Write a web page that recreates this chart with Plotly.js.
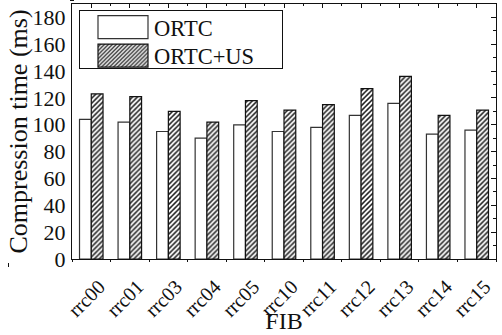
<!DOCTYPE html>
<html>
<head>
<meta charset="utf-8">
<script src="https://cdn.plot.ly/plotly-3.0.1.min.js"></script>
<style>html,body{margin:0;padding:0;background:#fff;}#chart{width:502px;height:335px;}</style>
</head>
<body>
<div id="chart"></div>
<script>
const categories = ["rrc00","rrc01","rrc03","rrc04","rrc05","rrc10","rrc11","rrc12","rrc13","rrc14","rrc15"];
const ortc   = [104, 102, 95, 90, 100, 95, 98, 107, 116, 93, 96];
const ortcUS = [123, 121, 110, 102, 118, 111, 115, 127, 136, 107, 111];
const seriesNames = ["ORTC", "ORTC+US"];
const yTickStep = 20;

const FONT = "Liberation Serif, Times New Roman, serif";

const traces = [
  {
    type: "bar", name: seriesNames[0], x: categories, y: ortc,
    marker: {color: "#ffffff", line: {color: "#333", width: 1.2}},
    xaxis: "x", yaxis: "y"
  },
  {
    type: "bar", name: seriesNames[1], x: categories, y: ortcUS,
    marker: {color: "#ffffff", line: {color: "#111", width: 1.2},
             pattern: {shape: "/", size: 3.5, solidity: 0.45, fgcolor: "#222", bgcolor: "#ffffff"}},
    xaxis: "x", yaxis: "y"
  },
  {type: "scatter", x: [], y: [], xaxis: "x2", yaxis: "y", showlegend: false, hoverinfo: "skip"},
  {type: "scatter", x: [], y: [], xaxis: "x3", yaxis: "y", showlegend: false, hoverinfo: "skip"},
  {type: "scatter", x: [], y: [], xaxis: "x", yaxis: "y2", showlegend: false, hoverinfo: "skip"}
];

const n = categories.length;
const layout = {
  width: 502, height: 335,
  margin: {l: 72, r: 6, t: 4, b: 76},
  paper_bgcolor: "#fff", plot_bgcolor: "#fff",
  font: {family: FONT, color: "#111"},
  barmode: "group", bargap: 0.39, bargroupgap: 0,
  showlegend: true,
  legend: {
    x: 0.0165, y: 0.976, xanchor: "left", yanchor: "top",
    bordercolor: "#111", borderwidth: 1, bgcolor: "#fff",
    font: {family: FONT, size: 22.5, color: "#111"},
    itemwidth: 64, tracegroupgap: 0
  },
  xaxis: {
    type: "category", categoryorder: "array", categoryarray: categories,
    showline: true, linecolor: "#111", linewidth: 1.2,
    ticks: "outside", ticklen: 4, tickcolor: "#111",
    tickangle: -45, tickfont: {family: FONT, size: 20, color: "#111"},
    showgrid: false, zeroline: false,
    title: {text: "FIB", font: {family: FONT, size: 24, color: "#111"}, standoff: 0}
  },
  xaxis2: {
    overlaying: "x", side: "bottom", anchor: "y", type: "linear",
    range: [-0.5, n - 0.5], tick0: 0.5, dtick: 1,
    ticks: "outside", ticklen: 2, tickcolor: "#111",
    showticklabels: false, showline: false, showgrid: false, zeroline: false
  },
  xaxis3: {
    overlaying: "x", side: "top", anchor: "y", type: "linear",
    range: [-0.5, n - 0.5], tick0: 0, dtick: 1,
    ticks: "inside", ticklen: 4, tickcolor: "#111",
    minor: {ticks: "inside", ticklen: 2, tick0: 0.5, dtick: 1, tickcolor: "#111"},
    showticklabels: false, showline: true, linecolor: "#111", linewidth: 1.2,
    showgrid: false, zeroline: false
  },
  yaxis: {
    range: [0, 190], dtick: yTickStep, tick0: 0,
    showline: true, linecolor: "#111", linewidth: 1.2,
    ticks: "outside", ticklen: 4, tickcolor: "#111",
    minor: {ticks: "outside", ticklen: 2, dtick: yTickStep / 2, tickcolor: "#111"},
    tickfont: {family: FONT, size: 22, color: "#111"},
    showgrid: false, zeroline: false,
    title: {text: "Compression time (ms)", font: {family: FONT, size: 26, color: "#111"}, standoff: 0}
  },
  yaxis2: {
    overlaying: "y", side: "right", anchor: "x",
    range: [0, 190], dtick: yTickStep, tick0: 0,
    showline: true, linecolor: "#111", linewidth: 1.2,
    ticks: "inside", ticklen: 5, tickcolor: "#111",
    minor: {ticks: "inside", ticklen: 3, dtick: yTickStep / 2, tickcolor: "#111"},
    showticklabels: false, showgrid: false, zeroline: false
  }
};

Plotly.newPlot("chart", traces, layout, {displayModeBar: false, staticPlot: true}).then(function () {
  // enlarge the legend swatches and tighten the rows to match the reference legend box
  document.querySelectorAll("#chart .legend .legendpoints path").forEach(function (p) {
    p.setAttribute("d", "M31,11.5H-19V-11.5H31Z");
  });
  const items = document.querySelectorAll("#chart .legend .traces");
  items.forEach(function (g, i) {
    const t = g.getAttribute("transform") || "";
    const m = t.match(/translate\(([-\d.]+)[ ,]*([-\d.]+)?\)/);
    const x = m ? parseFloat(m[1]) : 0;
    g.setAttribute("transform", "translate(" + x + "," + (17 + i * 28.5) + ")");
  });
  const bg = document.querySelector("#chart .legend rect.bg");
  if (bg) { bg.setAttribute("width", 203); bg.setAttribute("height", 58); }
  // nudge rotated category labels so they sit centred under their ticks, as in the reference
  document.querySelectorAll("#chart .xaxislayer-above .xtick").forEach(function (g) {
    g.setAttribute("transform", "translate(8,3)");
  });
  document.querySelectorAll("#chart .yaxislayer-above .ytick").forEach(function (g) {
    g.setAttribute("transform", "translate(3,0)");
  });
  const yt = document.querySelector("#chart .g-ytitle");
  if (yt) yt.setAttribute("transform", "translate(6,0)");
  const xt = document.querySelector("#chart .g-xtitle");
  if (xt) xt.setAttribute("transform", "translate(0,-5)");
});
</script>
</body>
</html>
